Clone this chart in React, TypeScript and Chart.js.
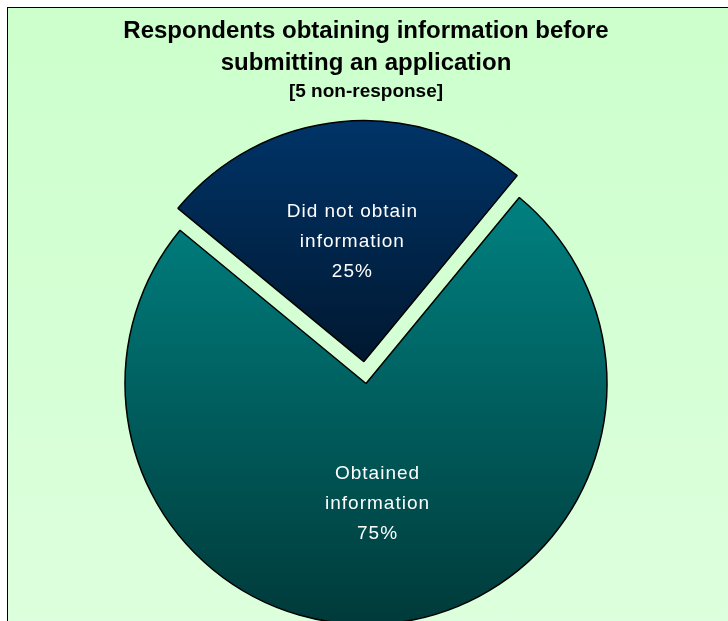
import React, { useEffect, useRef } from "react";
import { Chart, registerables } from "chart.js";

Chart.register(...registerables);

const titleLines = ["Respondents obtaining information before", "submitting an application"];
const subtitleText = "[5 non-response]";
const categories = ["Did not obtain information", "Obtained information"];
const labelLines = [["Did not obtain", "information"], ["Obtained", "information"]];
const values = [25, 75];
const topColors = ["#003468", "#008080"];
const bottomColors = ["#001830", "#003a3a"];
const explode = [88, 0];

const RADIUS = 241;

function makeGrad(ctx: CanvasRenderingContext2D, y0: number, y1: number, c0: string, c1: string) {
  const g = ctx.createLinearGradient(0, y0, 0, y1);
  g.addColorStop(0, c0);
  g.addColorStop(1, c1);
  return g;
}

const labelPlugin = {
  id: "sliceLabels",
  afterDatasetsDraw(chart: any) {
    const ctx = chart.ctx as CanvasRenderingContext2D;
    const meta = chart.getDatasetMeta(0);
    const total = values.reduce((a, b) => a + b, 0);
    ctx.save();
    ctx.fillStyle = "#ffffff";
    ctx.font = '19px "Liberation Sans", Arial, sans-serif';
    try { (ctx as any).letterSpacing = "1px"; } catch (e) {}
    ctx.textAlign = "center";
    ctx.textBaseline = "middle";
    meta.data.forEach((arc: any, i: number) => {
      const p = arc.getProps(["x", "y", "startAngle", "endAngle", "outerRadius"], true);
      const mid = (p.startAngle + p.endAngle) / 2;
      const off = (explode[i] || 0) / 4;
      const r = off + p.outerRadius / 2;
      const cx = p.x + Math.cos(mid) * r;
      const cy = p.y + Math.sin(mid) * r;
      const pct = Math.round((values[i] / total) * 100) + "%";
      const lines = [...labelLines[i], pct];
      const lh = 30;
      lines.forEach((t, k) => {
        ctx.fillText(t, cx, cy + (k - (lines.length - 1) / 2) * lh);
      });
    });
    ctx.restore();
  },
};

export default function App() {
  const ref = useRef<HTMLCanvasElement>(null);
  useEffect(() => {
    if (!ref.current) return;
    const chart = new Chart(ref.current, {
      type: "pie",
      data: {
        labels: categories,
        datasets: [
          {
            data: values,
            backgroundColor: (c: any) => {
              const { chart, dataIndex } = c;
              const a = chart.chartArea;
              if (!a) return topColors[dataIndex];
              const cy = (a.top + a.bottom) / 2;
              if (dataIndex === 0) {
                return makeGrad(chart.ctx, cy - RADIUS, cy, topColors[0], bottomColors[0]);
              }
              return makeGrad(chart.ctx, cy - RADIUS * 0.76, cy + RADIUS, topColors[1], bottomColors[1]);
            },
            borderColor: "#000000",
            borderWidth: 1.5,
            offset: explode,
            radius: RADIUS,
          } as any,
        ],
      },
      options: {
        responsive: false,
        animation: false,
        rotation: -50.5,
        layout: { padding: { left: 0, right: 4, top: 0, bottom: 0 } },
        plugins: {
          legend: { display: false },
          tooltip: { enabled: false },
          title: {
            display: true,
            text: titleLines,
            color: "#000000",
            font: { family: '"Liberation Sans", Arial, sans-serif', size: 24, weight: "bold", lineHeight: "32px" } as any,
            padding: { top: 7, bottom: 0 },
          },
          subtitle: {
            display: true,
            text: subtitleText,
            color: "#000000",
            font: { family: '"Liberation Sans", Arial, sans-serif', size: 19, weight: "bold", lineHeight: "26px" } as any,
            padding: { top: 0, bottom: 0 },
          },
        },
      },
      plugins: [labelPlugin],
    });
    return () => chart.destroy();
  }, []);

  return (
    <div
      style={{
        position: "absolute",
        left: 7,
        top: 7,
        width: 721,
        height: 614,
        boxSizing: "border-box",
        borderTop: "1px solid #000",
        borderLeft: "1px solid #000",
        background: "linear-gradient(to bottom, #ccffcc, #ddffdd)",
        overflow: "hidden",
      }}
    >
      <canvas ref={ref} width={720} height={654} style={{ display: "block" }} />
    </div>
  );
}
